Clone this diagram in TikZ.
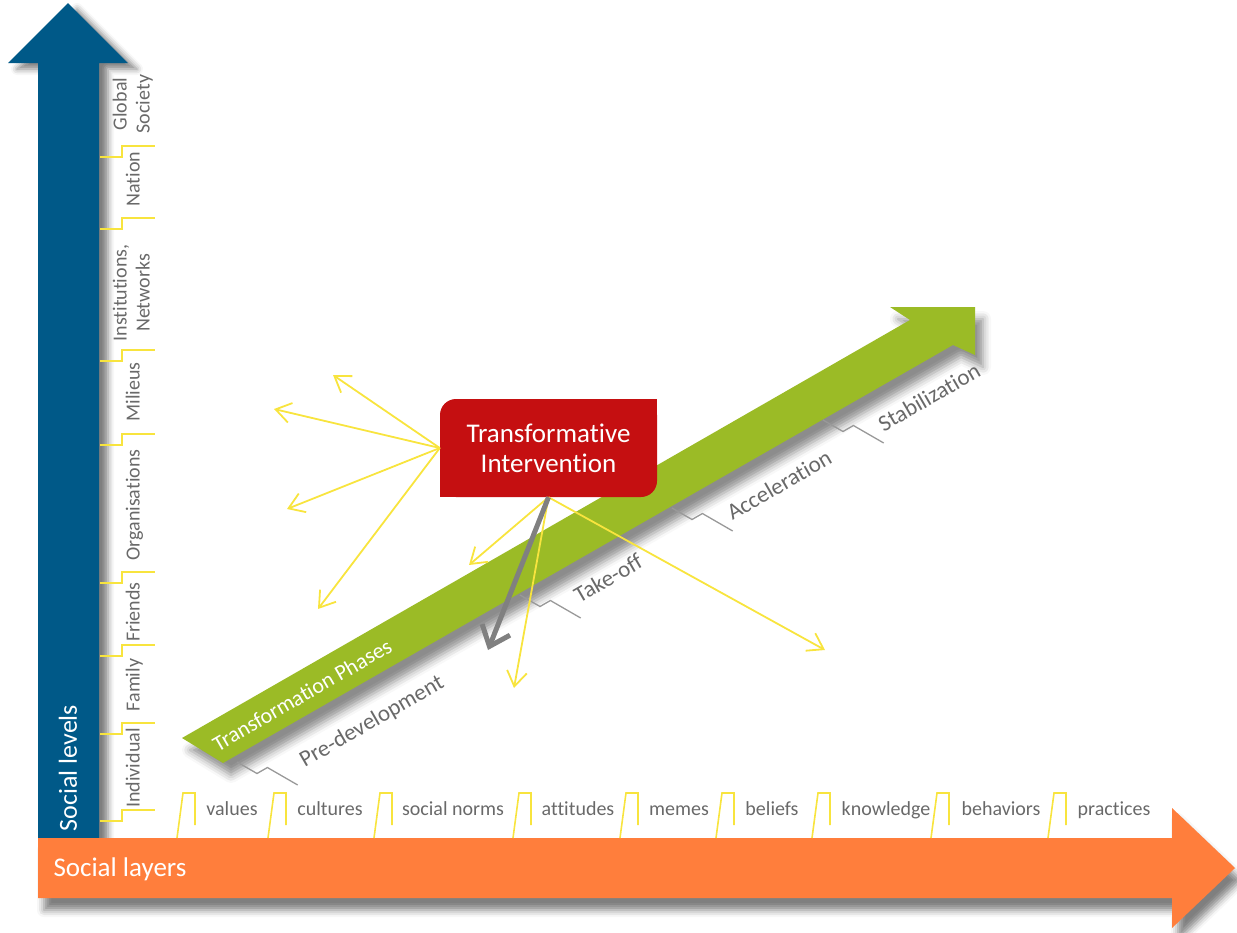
\documentclass[tikz,border=0pt]{standalone}
\usepackage{fontspec}
\setmainfont[Ligatures=NoCommon]{Carlito}
\usepackage{tikz}
\usetikzlibrary{arrows.meta,shadows.blur}

\definecolor{levelblue}{RGB}{0,89,136}
\definecolor{layerorange}{RGB}{255,126,60}
\definecolor{phasegreen}{RGB}{155,187,38}
\definecolor{boxred}{RGB}{197,15,17}
\definecolor{markyellow}{RGB}{248,228,62}
\definecolor{labelgray}{RGB}{105,105,105}

\begin{document}
\begin{tikzpicture}[x=1pt, y=-1pt,
  levellabel/.style={rotate=90, text=labelgray, font=\fontsize{20}{23}\selectfont, align=center, text height=13pt, text depth=4pt},
  layerlabel/.style={anchor=base, text=labelgray, font=\fontsize{20}{23}\selectfont},
  phaselabel/.style={rotate=30, text=labelgray, font=\fontsize{23}{26}\selectfont},
  axistitle/.style={text=white, font=\fontsize{26}{30}\selectfont},
  ymark/.style={markyellow, line width=1.6pt},
  gmark/.style={gray!80, line width=1.3pt},
  pusharrow/.style={markyellow, line width=1.8pt, -{Straight Barb[length=15pt,width=20pt]}},
  mainarrow/.style={gray, line width=5pt, -{Straight Barb[length=18pt,width=30pt]}}]
  \useasboundingbox (0,0) rectangle (1237,932);

  % axes
  \fill[levelblue, blur shadow={shadow xshift=9pt, shadow yshift=-6pt, shadow blur radius=6pt, shadow opacity=50}]
    (38,838) -- (38,63) -- (8,63) -- (68,3) -- (128,63) -- (99,63) -- (99,838) -- cycle;
  \fill[layerorange, blur shadow={shadow xshift=6pt, shadow yshift=-12pt, shadow blur radius=7pt, shadow opacity=50}]
    (38,838) -- (1172,838) -- (1172,808) -- (1235,868) -- (1172,928) -- (1172,898) -- (38,898) -- cycle;
  \node (levels) [axistitle, rotate=90] at (68,768) {Social levels};
  \node (layers) [axistitle, font=\fontsize{27}{30}\selectfont] at (120,869) {Social layers};

  % social levels
  \draw[ymark] (100,157) -- ++(22,0) -- ++(0,-11) -- ++(33,0);
  \draw[ymark] (100,229) -- ++(22,0) -- ++(0,-11) -- ++(33,0);
  \draw[ymark] (100,361) -- ++(22,0) -- ++(0,-11) -- ++(33,0);
  \draw[ymark] (100,445) -- ++(22,0) -- ++(0,-11) -- ++(33,0);
  \draw[ymark] (100,583) -- ++(22,0) -- ++(0,-11) -- ++(33,0);
  \draw[ymark] (100,656) -- ++(22,0) -- ++(0,-11) -- ++(33,0);
  \draw[ymark] (100,734) -- ++(22,0) -- ++(0,-11) -- ++(33,0);
  \draw[ymark] (100,821) -- ++(22,0) -- ++(0,-11) -- ++(33,0);
  \node (global) [levellabel] at (145,104) {Global\\Society};
  \node (nation) [levellabel] at (135,179) {Nation};
  \node (inst) [levellabel] at (145,293) {Institutions,\\Networks};
  \node (milieus) [levellabel] at (135,392) {Milieus};
  \node (orgs) [levellabel] at (135,505) {Organisations};
  \node (friends) [levellabel] at (135,612) {Friends};
  \node (family) [levellabel] at (135,685) {Family};
  \node (indiv) [levellabel] at (135,768) {Individual};

  % social layers
  \draw[ymark] (177,838) -- ++(6,-45) -- ++(12,0) -- ++(0,32);
  \draw[ymark] (268,838) -- ++(6,-45) -- ++(12,0) -- ++(0,32);
  \draw[ymark] (374,838) -- ++(6,-45) -- ++(12,0) -- ++(0,32);
  \draw[ymark] (513,838) -- ++(6,-45) -- ++(12,0) -- ++(0,32);
  \draw[ymark] (620,838) -- ++(6,-45) -- ++(12,0) -- ++(0,32);
  \draw[ymark] (716,838) -- ++(6,-45) -- ++(12,0) -- ++(0,32);
  \draw[ymark] (812,838) -- ++(6,-45) -- ++(12,0) -- ++(0,32);
  \draw[ymark] (931,838) -- ++(6,-45) -- ++(12,0) -- ++(0,32);
  \draw[ymark] (1048,838) -- ++(6,-45) -- ++(12,0) -- ++(0,32);
  \node (values) [layerlabel] at (232,815) {values};
  \node (cultures) [layerlabel] at (330,815) {cultures};
  \node (norms) [layerlabel] at (453,815) {social norms};
  \node (attitudes) [layerlabel] at (578,815) {attitudes};
  \node (memes) [layerlabel] at (679,815) {memes};
  \node (beliefs) [layerlabel] at (772,815) {beliefs};
  \node (knowledge) [layerlabel] at (886,815) {knowledge};
  \node (behaviors) [layerlabel] at (1001,815) {behaviors};
  \node (practices) [layerlabel] at (1114,815) {practices};

  % transformation phases
  \fill[phasegreen, blur shadow={shadow xshift=8pt, shadow yshift=-12pt, shadow blur radius=8pt, shadow opacity=45}]
    (182,738) -- (910,320) -- (890,307) -- (975,307) -- (975,355) -- (953,345) -- (223,763) -- cycle;
  \node (phases) [rotate=30, text=white, font=\fontsize{22}{26}\selectfont] at (302,695) {Transformation Phases};
  \draw[gmark] (237,762) -- ++(20,11.5) -- ++(10.4,-6) -- ++(30.3,17.5);
  \draw[gmark] (520,595) -- ++(20,11.5) -- ++(10.4,-6) -- ++(30.3,17.5);
  \draw[gmark] (672,508) -- ++(20,11.5) -- ++(10.4,-6) -- ++(30.3,17.5);
  \draw[gmark] (823,420) -- ++(20,11.5) -- ++(10.4,-6) -- ++(30.3,17.5);
  \node (predev) [phaselabel] at (372,722) {Pre-development};
  \node (takeoff) [phaselabel] at (608,578) {Take-off};
  \node (accel) [phaselabel] at (779,485) {Acceleration};
  \node (stab) [phaselabel] at (929,397) {Stabilization};

  % intervention
  \coordinate (p1) at (333,375);
  \coordinate (p2) at (274,409);
  \coordinate (p3) at (287,509);
  \coordinate (p4) at (318,609);
  \coordinate (p5) at (469,565);
  \coordinate (p6) at (514,688);
  \coordinate (p7) at (825,650);
  \coordinate (g1) at (488,650);
  \node (interv) [minimum width=217pt, minimum height=98pt, rounded corners=16pt, fill=boxred, text=white,
    align=center, font=\fontsize{27}{30}\selectfont] at (548.5,448) {};
  \draw[pusharrow] (interv.west) -- (p1);
  \draw[pusharrow] (interv.west) -- (p2);
  \draw[pusharrow] (interv.west) -- (p3);
  \draw[pusharrow] (interv.west) -- (p4);
  \draw[pusharrow] (interv.south) -- (p5);
  \draw[pusharrow] (interv.south) -- (p6);
  \draw[pusharrow] (interv.south) -- (p7);
  \draw[mainarrow] (interv.south) -- (g1);
  \fill[boxred] (interv.north east) rectangle ([xshift=-20pt,yshift=-20pt]interv.north east);
  \fill[boxred] (interv.south west) rectangle ([xshift=20pt,yshift=20pt]interv.south west);
  \node (intervtext) [text=white, align=center, font=\fontsize{27}{30}\selectfont] at (interv.center) {Transformative\\Intervention};
\end{tikzpicture}
\end{document}
